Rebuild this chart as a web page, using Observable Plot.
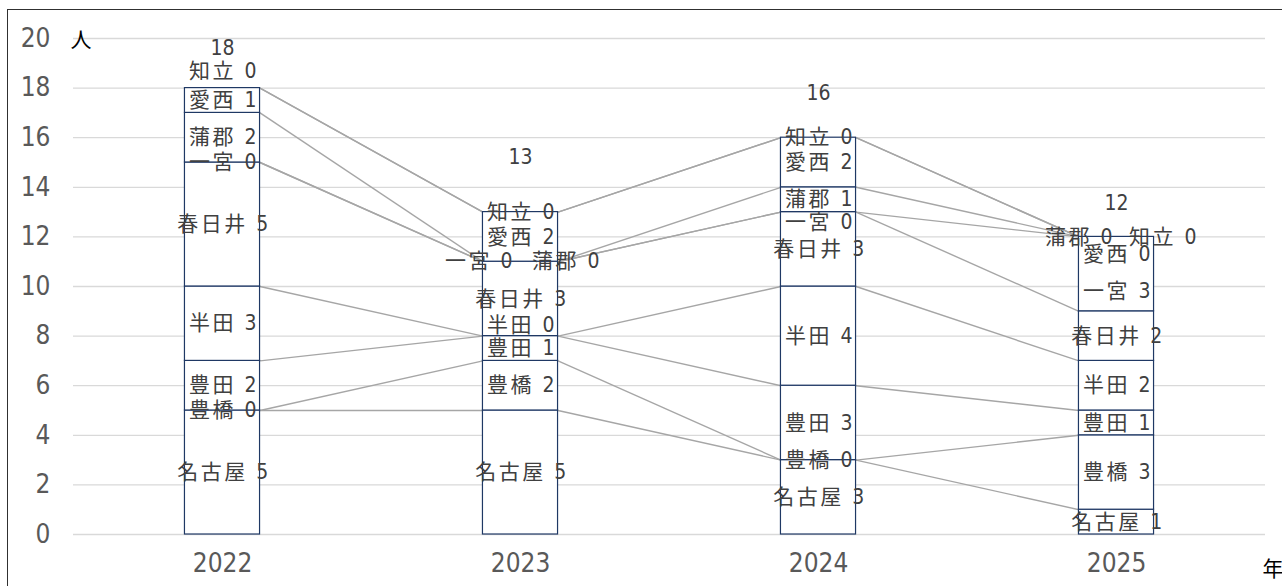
<!DOCTYPE html>
<html><head><meta charset="utf-8">
<script src="https://cdn.jsdelivr.net/npm/d3@7"></script>
<script src="https://cdn.jsdelivr.net/npm/@observablehq/plot@0.6"></script>
<style>
html,body{margin:0;padding:0;overflow:hidden;background:#fff;}
#wrap{position:relative;width:1282px;height:586px;overflow:hidden;}
#frame{position:absolute;left:7px;top:9px;width:1400px;height:700px;border:1px solid #303030;box-sizing:border-box;pointer-events:none;}
#chart svg{display:block;}
</style></head><body>
<div id="wrap"><div id="chart"></div><div id="frame"></div></div>
<script>
// ---- data ----
const years = [2022, 2023, 2024, 2025];
const cities = ["名古屋", "豊橋", "豊田", "半田", "春日井", "一宮", "蒲郡", "愛西", "知立"];
const v2022 = [5, 0, 2, 3, 5, 0, 2, 1, 0];
const v2023 = [5, 2, 1, 0, 3, 0, 0, 2, 0];
const v2024 = [3, 0, 3, 4, 3, 0, 1, 2, 0];
const v2025 = [1, 3, 1, 2, 2, 3, 0, 0, 0];
const yTicks = [0, 2, 4, 6, 8, 10, 12, 14, 16, 18, 20];
const yUnit = "人";
const xUnit = "年";

// ---- layout / style (label nudges in px) ----
const barWidth = 0.252; // in category units
const labelNudge = {
  "2022|知立": [0, -17],
  "2023|一宮": [-42, 0],
  "2023|蒲郡": [45, 0],
  "2023|半田": [0, -11],
  "2024|一宮": [0, 10],
  "2025|蒲郡": [-38, 0],
  "2025|知立": [46, 0],
  "2025|愛西": [0, 17],
  "2025|一宮": [0, 17]
};
const totalNudge = {2022: -40, 2023: -55, 2024: -44, 2025: -34};
const latinFont = "'Liberation Sans Narrow', 'DejaVu Sans Condensed', 'Noto Sans CJK JP', sans-serif";
const labelColor = "#404040";

// ---- derived ----
const series = {2022: v2022, 2023: v2023, 2024: v2024, 2025: v2025};
const segs = [];
const tops = {};
years.forEach(yr => {
  let acc = 0;
  tops[yr] = [];
  series[yr].forEach((v, i) => {
    segs.push({year: yr, city: cities[i], value: v, y0: acc, y1: acc + v});
    acc += v;
    tops[yr].push(acc);
  });
});
const hw = barWidth / 2;
const links = [];
for (let k = 0; k < years.length - 1; k++) {
  for (let i = 0; i < cities.length; i++) {
    links.push({x1: years[k] + hw, x2: years[k + 1] - hw, y1: tops[years[k]][i], y2: tops[years[k + 1]][i]});
  }
}
const totals = years.map(yr => ({year: yr, total: d3.sum(series[yr]), dy: totalNudge[yr]}));
const labels = segs.map(s => {
  const n = labelNudge[s.year + "|" + s.city] || [0, 0];
  return {year: s.year, y: (s.y0 + s.y1) / 2, text: s.city + " " + s.value, dx: n[0], dy: n[1]};
});
const groups = d3.groups(labels, d => d.dx + "," + d.dy);
const labelMarks = groups.map(([k, arr]) => Plot.text(arr, {
  x: "year", y: "y", text: "text", dx: arr[0].dx + 1.5, dy: arr[0].dy,
  fill: labelColor, fontSize: 21, textAnchor: "middle"
}));
const totalMarks = totals.map(t => Plot.text([t], {
  x: "year", y: "total", text: d => String(d.total), dy: t.dy,
  fill: "#404041", fontSize: 21, textAnchor: "middle"
}));

const chart = Plot.plot({
  width: 1282, height: 586,
  marginTop: 38, marginBottom: 52, marginLeft: 73, marginRight: 17,
  x: {domain: [2021.5, 2025.5]},
  y: {domain: [0, 20]},
  style: {fontFamily: latinFont, background: "transparent", overflow: "visible"},
  marks: [
    Plot.gridY(yTicks, {stroke: "#d9d9d9", strokeOpacity: 1, strokeWidth: 1.3}),
    Plot.axisY(yTicks, {tickSize: 0, tickPadding: 23, fontSize: 26, fill: "#595959", label: null}),
    Plot.axisX(years, {tickSize: 0, tickPadding: 19, fontSize: 26, fill: "#595959", tickFormat: d => String(d), label: null}),
    Plot.link(links, {x1: "x1", y1: "y1", x2: "x2", y2: "y2", stroke: "#a6a6a6", strokeWidth: 1.4}),
    Plot.rect(segs, {x1: d => d.year - hw, x2: d => d.year + hw, y1: "y0", y2: "y1", fill: "white", stroke: "#1f3864", strokeWidth: 1.2}),
    ...labelMarks,
    ...totalMarks,
    Plot.text([yUnit], {x: () => 2021.5, y: () => 20, text: d => d, dx: -3, dy: 2, textAnchor: "start", fill: "#000", fontSize: 21, fontFamily: "'Noto Sans CJK JP', sans-serif"}),
    Plot.text([xUnit], {x: () => 2025.5, y: () => 0, text: d => d, dx: -3, dy: 35, textAnchor: "start", fill: "#000", fontSize: 21, fontFamily: "'Noto Sans CJK JP', sans-serif"})
  ]
});
// segment labels: wider letter spacing like the reference
d3.select(chart).selectAll(`g[fill="${labelColor}"]`).style("letter-spacing", "2.5px");
document.getElementById("chart").appendChild(chart);
</script>
</body></html>
